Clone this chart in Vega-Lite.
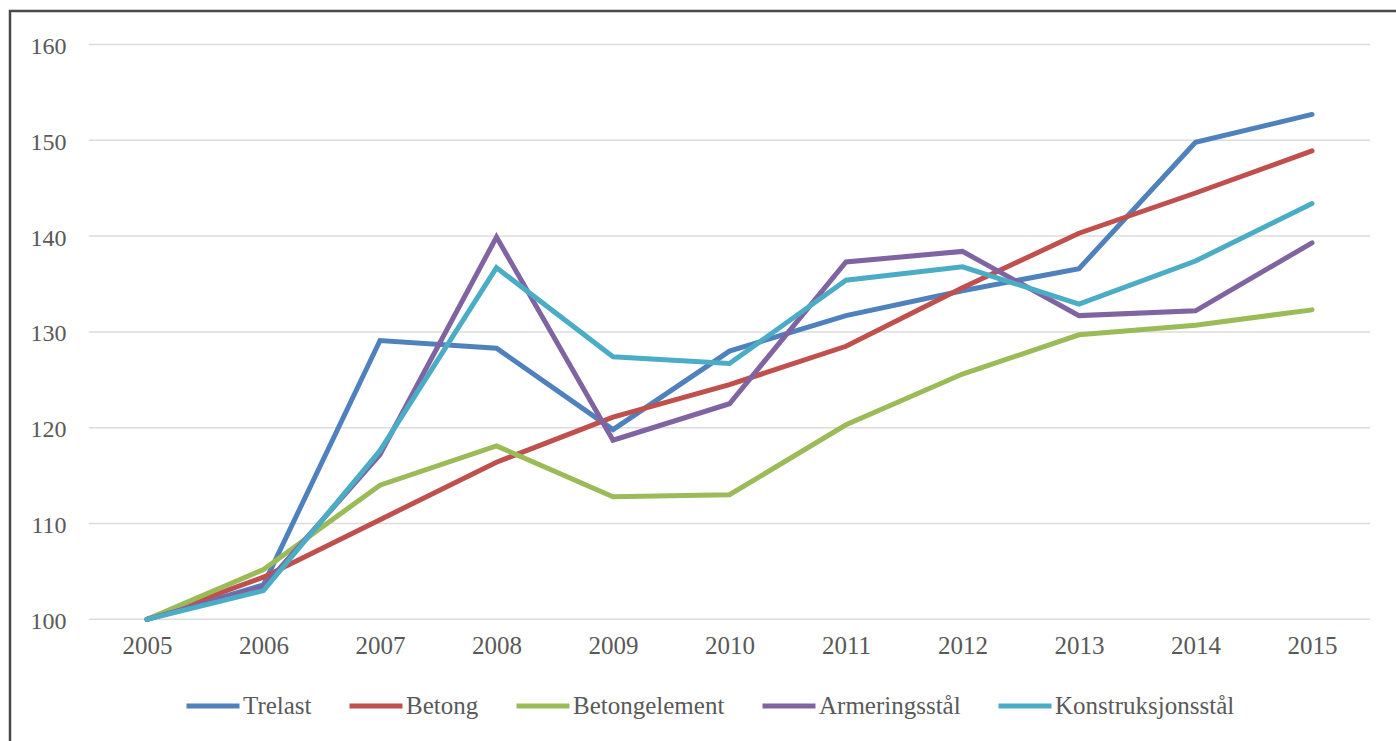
{
  "$schema": "https://vega.github.io/schema/vega-lite/v6.json",
  "autosize": {"type": "none"},
  "padding": {"left": 10, "top": 11, "right": 0, "bottom": 0},
  "width": 1390,
  "height": 735,
  "background": "white",
  "config": {
    "view": {"stroke": "#4a4a4a", "strokeWidth": 2.5},
    "font": "Liberation Serif",
    "axis": {"labelFont": "Liberation Serif", "labelColor": "#595959", "labelFontSize": 24}
  },
  "datasets": {
    "series": [
      {"year": 2005, "material": "Trelast", "index": 100},
      {"year": 2006, "material": "Trelast", "index": 103.6},
      {"year": 2007, "material": "Trelast", "index": 129.1},
      {"year": 2008, "material": "Trelast", "index": 128.3},
      {"year": 2009, "material": "Trelast", "index": 119.8},
      {"year": 2010, "material": "Trelast", "index": 128.0},
      {"year": 2011, "material": "Trelast", "index": 131.7},
      {"year": 2012, "material": "Trelast", "index": 134.3},
      {"year": 2013, "material": "Trelast", "index": 136.6},
      {"year": 2014, "material": "Trelast", "index": 149.8},
      {"year": 2015, "material": "Trelast", "index": 152.7},
      {"year": 2005, "material": "Betong", "index": 100},
      {"year": 2006, "material": "Betong", "index": 104.4},
      {"year": 2007, "material": "Betong", "index": 110.4},
      {"year": 2008, "material": "Betong", "index": 116.4},
      {"year": 2009, "material": "Betong", "index": 121.1},
      {"year": 2010, "material": "Betong", "index": 124.5},
      {"year": 2011, "material": "Betong", "index": 128.5},
      {"year": 2012, "material": "Betong", "index": 134.6},
      {"year": 2013, "material": "Betong", "index": 140.3},
      {"year": 2014, "material": "Betong", "index": 144.5},
      {"year": 2015, "material": "Betong", "index": 148.9},
      {"year": 2005, "material": "Betongelement", "index": 100},
      {"year": 2006, "material": "Betongelement", "index": 105.2},
      {"year": 2007, "material": "Betongelement", "index": 114.0},
      {"year": 2008, "material": "Betongelement", "index": 118.1},
      {"year": 2009, "material": "Betongelement", "index": 112.8},
      {"year": 2010, "material": "Betongelement", "index": 113.0},
      {"year": 2011, "material": "Betongelement", "index": 120.3},
      {"year": 2012, "material": "Betongelement", "index": 125.6},
      {"year": 2013, "material": "Betongelement", "index": 129.7},
      {"year": 2014, "material": "Betongelement", "index": 130.7},
      {"year": 2015, "material": "Betongelement", "index": 132.3},
      {"year": 2005, "material": "Armeringsstål", "index": 100},
      {"year": 2006, "material": "Armeringsstål", "index": 103.4},
      {"year": 2007, "material": "Armeringsstål", "index": 117.2},
      {"year": 2008, "material": "Armeringsstål", "index": 139.9},
      {"year": 2009, "material": "Armeringsstål", "index": 118.7},
      {"year": 2010, "material": "Armeringsstål", "index": 122.5},
      {"year": 2011, "material": "Armeringsstål", "index": 137.3},
      {"year": 2012, "material": "Armeringsstål", "index": 138.4},
      {"year": 2013, "material": "Armeringsstål", "index": 131.7},
      {"year": 2014, "material": "Armeringsstål", "index": 132.2},
      {"year": 2015, "material": "Armeringsstål", "index": 139.3},
      {"year": 2005, "material": "Konstruksjonsstål", "index": 100},
      {"year": 2006, "material": "Konstruksjonsstål", "index": 103.0},
      {"year": 2007, "material": "Konstruksjonsstål", "index": 117.6},
      {"year": 2008, "material": "Konstruksjonsstål", "index": 136.7},
      {"year": 2009, "material": "Konstruksjonsstål", "index": 127.4},
      {"year": 2010, "material": "Konstruksjonsstål", "index": 126.7},
      {"year": 2011, "material": "Konstruksjonsstål", "index": 135.4},
      {"year": 2012, "material": "Konstruksjonsstål", "index": 136.8},
      {"year": 2013, "material": "Konstruksjonsstål", "index": 132.9},
      {"year": 2014, "material": "Konstruksjonsstål", "index": 137.4},
      {"year": 2015, "material": "Konstruksjonsstål", "index": 143.4}
    ],
    "grid": [
      {"level": 100}, {"level": 110}, {"level": 120}, {"level": 130},
      {"level": 140}, {"level": 150}, {"level": 160}
    ]
  },
  "layer": [
    {
      "data": {"name": "grid"},
      "mark": {"type": "rule", "color": "#dcdcdc", "strokeWidth": 1.5},
      "encoding": {
        "y": {"field": "level", "type": "quantitative"},
        "x": {"datum": 2004.5, "type": "quantitative"},
        "x2": {"datum": 2015.5}
      }
    },
    {
      "data": {"name": "series"},
      "mark": {"type": "line", "strokeWidth": 5, "strokeCap": "round"},
      "encoding": {
        "x": {
          "field": "year", "type": "quantitative",
          "scale": {"domain": [2003.824, 2015.7553], "nice": false, "zero": false},
          "axis": {
            "title": null, "values": [2005, 2006, 2007, 2008, 2009, 2010, 2011, 2012, 2013, 2014, 2015],
            "format": "d", "grid": false, "domain": false, "ticks": false, "tickSize": 0,
            "labelPadding": 0, "labelBaseline": "middle", "offset": -100.5,
            "labelFontSize": 25,
            "labelFlush": false, "labelOverlap": false
          }
        },
        "y": {
          "field": "index", "type": "quantitative",
          "scale": {"domain": [86.775, 163.497], "nice": false, "zero": false},
          "axis": {
            "title": null, "values": [100, 110, 120, 130, 140, 150, 160],
            "grid": false, "domain": false, "ticks": false, "tickSize": 0,
            "labelPadding": 0, "offset": -56, "labelFlush": false, "labelOverlap": false,
            "labelOffset": 2
          }
        },
        "color": {
          "field": "material", "type": "nominal",
          "scale": {
            "domain": ["Trelast", "Betong", "Betongelement", "Armeringsstål", "Konstruksjonsstål"],
            "range": ["#4f81bd", "#c0504d", "#9bbb59", "#8064a2", "#4bacc6"]
          },
          "legend": {
            "title": null, "orient": "none", "direction": "horizontal",
            "legendX": 174, "legendY": 666,
            "symbolType": "stroke", "symbolSize": 2809, "symbolStrokeWidth": 5,
            "labelFont": "Liberation Serif", "labelFontSize": 25, "labelColor": "#595959",
            "labelOffset": 1, "columnPadding": 27, "padding": 0, "labelLimit": 400
          }
        }
      }
    }
  ]
}
